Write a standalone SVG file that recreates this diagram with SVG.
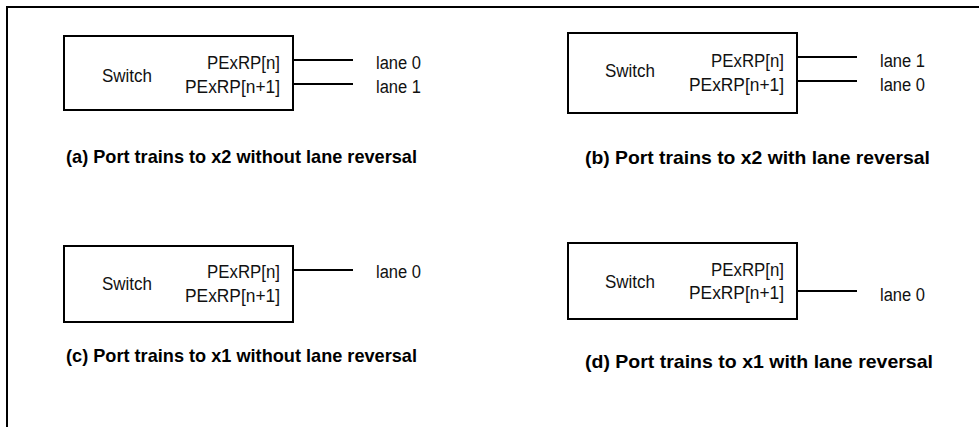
<svg xmlns="http://www.w3.org/2000/svg" width="979" height="427" viewBox="0 0 979 427">
<style>
.frame{fill:none;stroke:#000;stroke-width:2}
.box{fill:#fff;stroke:#000;stroke-width:2}
.wire{stroke:#000;stroke-width:2;fill:none}
.t{font-family:"Liberation Sans",Arial,sans-serif;font-size:18px;fill:#111}
.r{text-anchor:end}
.cap{font-family:"Liberation Sans",Arial,sans-serif;font-size:19px;font-weight:bold;fill:#000}
</style>
<rect width="979" height="427" fill="#fff"/>
<path class="frame" d="M7,427 V7 H979"/>
<g id="node-a">
<rect class="box" x="64" y="36" width="229" height="74"/>
<text class="t" x="102" y="82" textLength="50" lengthAdjust="spacingAndGlyphs">Switch</text>
<text class="t" x="207" y="69" textLength="73" lengthAdjust="spacingAndGlyphs">PExRP[n]</text>
<text class="t" x="185" y="93" textLength="95" lengthAdjust="spacingAndGlyphs">PExRP[n+1]</text>
<text class="t" x="376" y="69" textLength="45" lengthAdjust="spacingAndGlyphs">lane 0</text>
<text class="t" x="376" y="93" textLength="45" lengthAdjust="spacingAndGlyphs">lane 1</text>
</g>
<g id="node-b">
<rect class="box" x="568" y="33" width="229" height="80"/>
<text class="t" x="605" y="77" textLength="50" lengthAdjust="spacingAndGlyphs">Switch</text>
<text class="t" x="711" y="67" textLength="73" lengthAdjust="spacingAndGlyphs">PExRP[n]</text>
<text class="t" x="689" y="91" textLength="95" lengthAdjust="spacingAndGlyphs">PExRP[n+1]</text>
<text class="t" x="880" y="67" textLength="45" lengthAdjust="spacingAndGlyphs">lane 1</text>
<text class="t" x="880" y="91" textLength="45" lengthAdjust="spacingAndGlyphs">lane 0</text>
</g>
<g id="node-c">
<rect class="box" x="64" y="246" width="229" height="76"/>
<text class="t" x="102" y="290" textLength="50" lengthAdjust="spacingAndGlyphs">Switch</text>
<text class="t" x="207" y="278" textLength="73" lengthAdjust="spacingAndGlyphs">PExRP[n]</text>
<text class="t" x="185" y="302" textLength="95" lengthAdjust="spacingAndGlyphs">PExRP[n+1]</text>
<text class="t" x="376" y="278" textLength="45" lengthAdjust="spacingAndGlyphs">lane 0</text>
</g>
<g id="node-d">
<rect class="box" x="568" y="243" width="229" height="76"/>
<text class="t" x="605" y="288" textLength="50" lengthAdjust="spacingAndGlyphs">Switch</text>
<text class="t" x="711" y="276" textLength="73" lengthAdjust="spacingAndGlyphs">PExRP[n]</text>
<text class="t" x="689" y="299" textLength="95" lengthAdjust="spacingAndGlyphs">PExRP[n+1]</text>
<text class="t" x="880" y="301" textLength="45" lengthAdjust="spacingAndGlyphs">lane 0</text>
</g>
<g id="connectors">
<line class="wire" x1="293" y1="60" x2="353" y2="60"/>
<line class="wire" x1="293" y1="84" x2="353" y2="84"/>
<line class="wire" x1="797" y1="57" x2="857" y2="57"/>
<line class="wire" x1="797" y1="81" x2="857" y2="81"/>
<line class="wire" x1="293" y1="270" x2="353" y2="270"/>
<line class="wire" x1="797" y1="291" x2="857" y2="291"/>
</g>
<g id="captions">
<text class="cap" x="66" y="163" textLength="351" lengthAdjust="spacingAndGlyphs">(a) Port trains to x2 without lane reversal</text>
<text class="cap" x="585" y="164" textLength="345" lengthAdjust="spacingAndGlyphs">(b) Port trains to x2 with lane reversal</text>
<text class="cap" x="66" y="362" textLength="351" lengthAdjust="spacingAndGlyphs">(c) Port trains to x1 without lane reversal</text>
<text class="cap" x="585" y="368" textLength="348" lengthAdjust="spacingAndGlyphs">(d) Port trains to x1 with lane reversal</text>
</g>
</svg>
